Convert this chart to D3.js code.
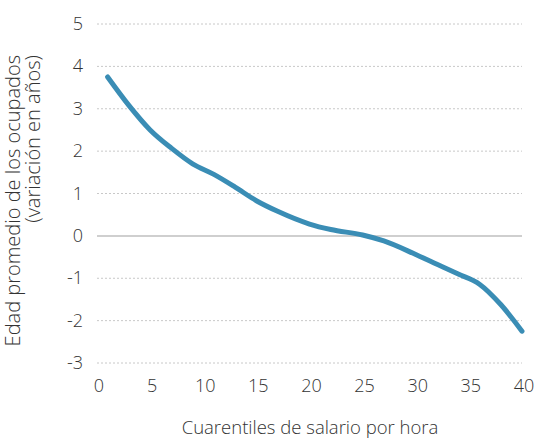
<!DOCTYPE html>
<html>
<head>
<meta charset="utf-8">
<script src="https://cdn.jsdelivr.net/npm/d3@7"></script>
<style>
  body { margin: 0; background: #fff; }
  text { font-family: "Open Sans", sans-serif; font-weight: 300; fill: #333; }
</style>
</head>
<body>
<svg id="chart" width="539" height="439"></svg>
<script>
// cuarentiles de salario y variación de edad promedio
const cuarentiles = [1, 3, 5, 7, 9, 11, 13, 15, 17, 20, 22, 25, 27, 30, 32, 34, 36, 38, 40];
const variacion = [3.75, 3.08, 2.5, 2.07, 1.7, 1.45, 1.15, 0.83, 0.58, 0.28, 0.15, 0.02, -0.12, -0.44, -0.67, -0.9, -1.14, -1.62, -2.25];
const xTicks = [0, 5, 10, 15, 20, 25, 30, 35, 40];
const yTicks = [-3, -2, -1, 0, 1, 2, 3, 4, 5];

const svg = d3.select("#chart");
const x = d3.scaleLinear().domain([0, 40]).range([97, 522]);
const y = d3.scaleLinear().domain([-3, 5]).range([363, 24]);

// grid
svg.append("g")
  .selectAll("line")
  .data(yTicks.filter(d => d !== 0))
  .join("line")
  .attr("x1", 97).attr("x2", 522)
  .attr("y1", d => y(d)).attr("y2", d => y(d))
  .attr("stroke", "#c8c8c8")
  .attr("stroke-width", 1)
  .attr("stroke-dasharray", "2,2");

svg.append("line")
  .attr("x1", 97).attr("x2", 522)
  .attr("y1", y(0)).attr("y2", y(0))
  .attr("stroke", "#cfcfcf")
  .attr("stroke-width", 2);

// y axis labels
svg.append("g")
  .selectAll("text")
  .data(yTicks)
  .join("text")
  .attr("x", 83)
  .attr("y", d => y(d) + 6)
  .attr("text-anchor", "end")
  .style("font-size", "18px")
  .text(d => d);

// x axis labels
svg.append("g")
  .selectAll("text")
  .data(xTicks)
  .join("text")
  .attr("x", d => x(d) + 2)
  .attr("y", 392)
  .attr("text-anchor", "middle")
  .style("font-size", "18px")
  .text(d => d);

// axis titles
svg.append("text")
  .attr("x", 310)
  .attr("y", 434)
  .attr("text-anchor", "middle")
  .style("font-size", "18.5px")
  .text("Cuarentiles de salario por hora");

const yt = svg.append("text")
  .attr("transform", "translate(20,55) rotate(-90)")
  .attr("text-anchor", "end")
  .style("font-size", "20px");
yt.append("tspan").attr("x", 0).attr("y", 0).text("Edad promedio de los ocupados");
yt.append("tspan").attr("x", 0).attr("y", 20).text("(variación en años)");

// line
const line = d3.line()
  .x((d, i) => x(cuarentiles[i]))
  .y(d => y(d))
  .curve(d3.curveMonotoneX);

svg.append("path")
  .datum(variacion)
  .attr("d", line)
  .attr("fill", "none")
  .attr("stroke", "#3a8db5")
  .attr("stroke-width", 5)
  .attr("stroke-linecap", "round")
  .attr("stroke-linejoin", "round");
</script>
</body>
</html>
